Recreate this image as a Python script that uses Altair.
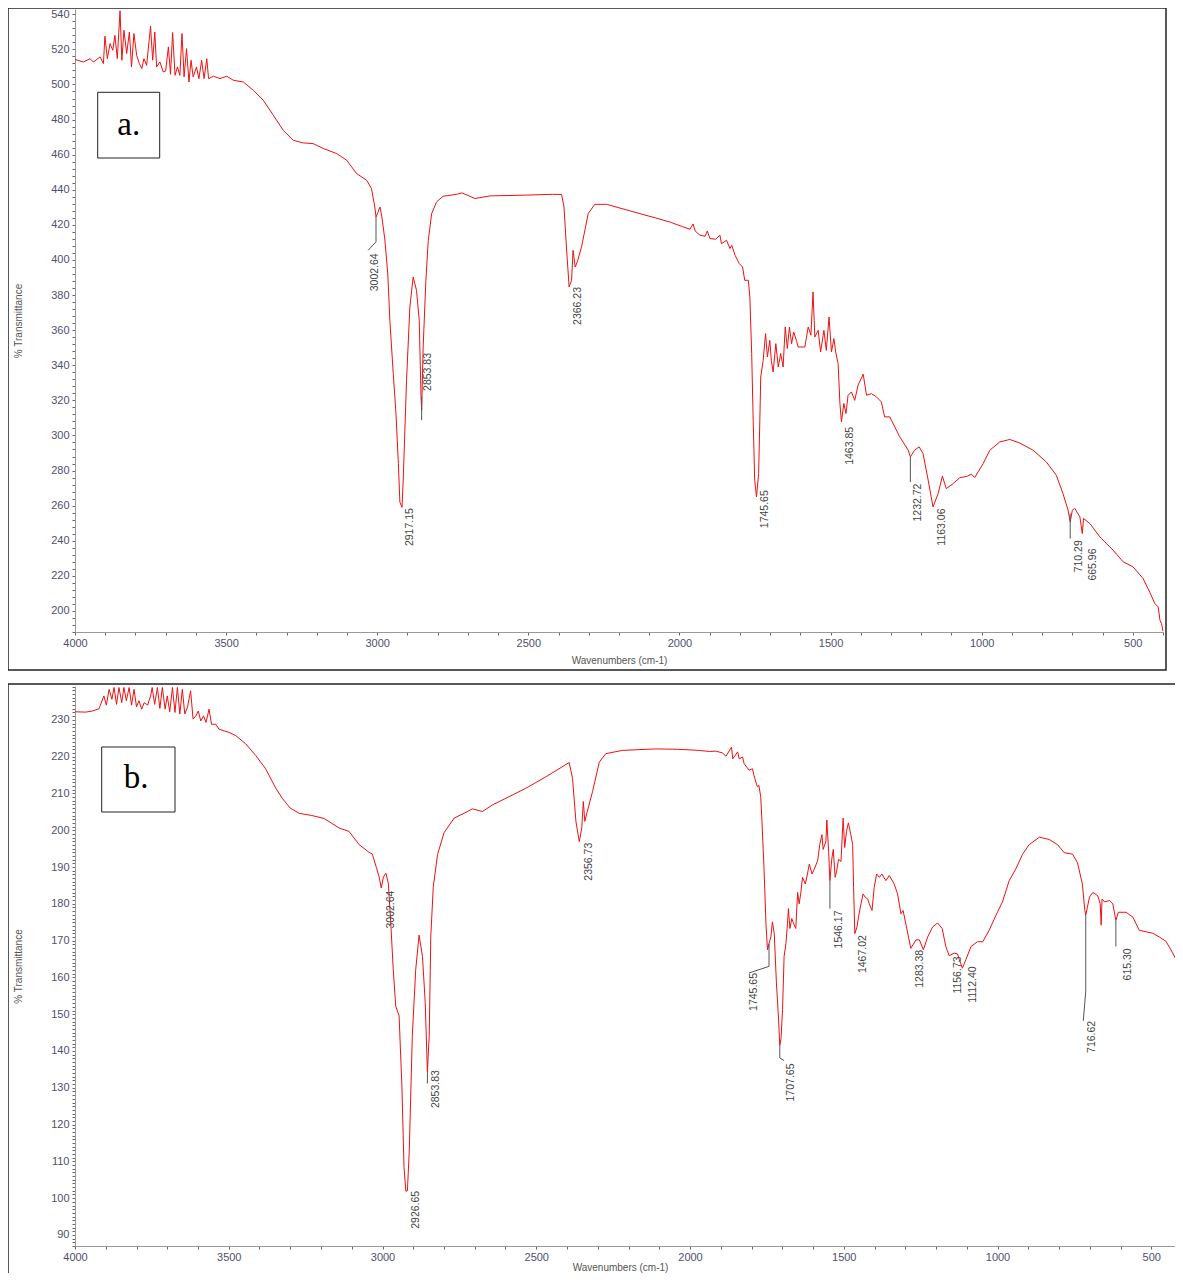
import altair as alt
import pandas as pd

FONT = "Liberation Sans"

# ---------------- spectrum a (wavenumber, %T) ----------------
wn_a = [4000, 3972, 3950, 3939, 3917, 3906, 3901, 3893, 3884, 3875, 3868, 3860, 3851, 3845, 3838,
        3829, 3820, 3813, 3805, 3796, 3787, 3779, 3772, 3763, 3750, 3743, 3736, 3730, 3719, 3708,
        3700, 3691, 3684, 3677, 3669, 3661, 3653, 3646, 3639, 3631, 3623, 3616, 3609, 3598, 3590,
        3581, 3573, 3564, 3558, 3542, 3520, 3498, 3476, 3443, 3410, 3377, 3344, 3311, 3278, 3245,
        3212, 3178, 3134, 3101, 3068, 3035, 3019, 3008, 3004, 2998, 2991, 2985, 2975, 2965, 2958,
        2947, 2938, 2930, 2925, 2918, 2914, 2903, 2892, 2881, 2870, 2861, 2855, 2853, 2848, 2839,
        2831, 2820, 2804, 2782, 2737, 2720, 2700, 2677, 2627, 2517, 2420, 2390, 2382, 2374, 2365,
        2357, 2352, 2345, 2338, 2324, 2302, 2280, 2241, 2131, 2080, 2030, 1990, 1965, 1955, 1948,
        1932, 1915, 1908, 1899, 1880, 1866, 1861, 1844, 1833, 1827, 1816, 1802, 1791, 1784, 1772,
        1767, 1761, 1756, 1751, 1745, 1738, 1734, 1731, 1723, 1715, 1709, 1701, 1696, 1690, 1681,
        1673, 1665, 1657, 1650, 1643, 1636, 1629, 1622, 1613, 1607, 1585, 1574, 1565, 1558, 1552,
        1541, 1533, 1522, 1514, 1505, 1497, 1489, 1483, 1475, 1469, 1464, 1456, 1449, 1442, 1431,
        1420, 1409, 1392, 1381, 1365, 1348, 1332, 1321, 1304, 1271, 1243, 1236, 1222, 1207, 1194,
        1177, 1161, 1144, 1130, 1117, 1094, 1072, 1050, 1034, 1023, 995, 973, 940, 907, 874,
        830, 786, 753, 731, 714, 707, 700, 692, 675, 667, 663, 642, 609, 565, 532,
        499, 466, 444, 427, 416, 410, 405, 400]
t_a = [514.2, 512.8, 514.7, 512.8, 515.7, 511.9, 527.5, 514.7, 523.3, 519.5, 528.0, 514.7, 542.0, 513.8, 530.9,
       517.6, 529.9, 510.0, 529.0, 516.6, 511.9, 509.0, 514.7, 510.9, 533.2, 513.8, 529.9, 510.0, 512.8, 507.1,
       507.7, 521.4, 505.8, 529.6, 505.2, 510.0, 505.2, 529.0, 504.3, 520.4, 501.4, 513.8, 504.3, 510.0, 503.3,
       513.8, 503.3, 514.7, 503.3, 504.7, 503.3, 504.7, 502.4, 501.4, 496.7, 491.0, 482.5, 473.9, 468.2, 466.7,
       466.3, 463.5, 460.6, 456.8, 449.2, 445.4, 440.7, 430.2, 424.5, 427.0, 430.2, 425.0, 412.0, 392.0, 365.0,
       335.3, 312.6, 284.0, 262.0, 259.0, 274.5, 331.5, 373.2, 390.3, 382.7, 365.6, 322.0, 314.4, 350.4, 388.4,
       411.2, 426.4, 433.0, 436.3, 437.4, 438.2, 436.8, 435.0, 436.5, 436.9, 437.4, 437.3, 430.2, 407.4, 384.6,
       388.4, 405.5, 396.0, 398.9, 407.4, 426.4, 431.7, 431.7, 426.4, 424.0, 421.5, 419.0, 417.5, 420.5, 416.5,
       414.1, 413.5, 416.5, 412.2, 411.8, 414.1, 409.3, 411.2, 406.5, 408.4, 402.7, 397.9, 396.0, 388.4, 388.4,
       378.9, 346.7, 308.7, 274.5, 265.0, 278.3, 308.7, 333.3, 342.8, 358.0, 344.7, 354.2, 342.8, 336.2, 352.3,
       339.0, 346.7, 339.0, 361.8, 349.5, 361.8, 352.3, 359.0, 354.2, 350.4, 350.4, 361.8, 357.1, 381.8, 356.1,
       359.9, 347.6, 359.9, 348.5, 367.5, 347.6, 355.2, 347.6, 340.9, 318.2, 307.7, 318.2, 312.5, 322.9, 324.8,
       320.0, 328.6, 334.9, 322.9, 323.8, 322.0, 319.1, 310.6, 310.6, 299.2, 291.6, 287.8, 291.6, 293.5, 289.7,
       274.5, 259.3, 266.9, 276.8, 269.7, 272.6, 276.0, 276.6, 277.9, 276.0, 284.0, 291.6, 296.3, 297.7, 295.7,
       291.6, 284.9, 277.3, 266.9, 257.4, 250.7, 257.4, 258.4, 253.6, 244.1, 252.7, 249.8, 242.2, 234.6, 228.0,
       225.1, 218.5, 210.8, 204.2, 202.3, 194.7, 192.8, 188.5]

# ---------------- spectrum b (wavenumber, %T) ----------------
wn_b = [4000, 3965, 3944, 3922, 3906, 3898, 3889, 3880, 3873, 3865, 3857, 3848, 3841, 3833, 3824,
        3816, 3808, 3800, 3792, 3783, 3775, 3764, 3754, 3749, 3741, 3732, 3724, 3716, 3707, 3700,
        3692, 3683, 3675, 3667, 3659, 3651, 3643, 3634, 3624, 3616, 3607, 3599, 3591, 3582, 3574,
        3564, 3556, 3542, 3532, 3515, 3499, 3477, 3445, 3412, 3380, 3347, 3326, 3300, 3271, 3230,
        3190, 3141, 3109, 3076, 3044, 3033, 3020, 3011, 3004, 2997, 2989, 2981, 2973, 2965, 2957,
        2946, 2937, 2930, 2924, 2919, 2913, 2903, 2892, 2881, 2870, 2861, 2854, 2848, 2843, 2835,
        2821, 2800, 2767, 2735, 2708, 2675, 2642, 2577, 2534, 2469, 2393, 2382, 2371, 2360, 2352,
        2347, 2342, 2334, 2317, 2295, 2274, 2220, 2111, 2040, 1970, 1937, 1916, 1894, 1883, 1865,
        1861, 1845, 1840, 1829, 1824, 1808, 1797, 1792, 1781, 1776, 1770, 1766, 1759, 1753, 1748,
        1743, 1737, 1732, 1726, 1719, 1712, 1708, 1704, 1699, 1694, 1688, 1683, 1680, 1675, 1669,
        1663, 1656, 1650, 1645, 1640, 1634, 1625, 1618, 1612, 1603, 1596, 1585, 1578, 1571, 1567,
        1558, 1555, 1549, 1545, 1539, 1534, 1528, 1523, 1517, 1509, 1502, 1497, 1491, 1485, 1477,
        1471, 1468, 1464, 1457, 1452, 1444, 1437, 1430, 1422, 1417, 1408, 1401, 1393, 1384, 1376,
        1363, 1352, 1336, 1325, 1314, 1307, 1296, 1282, 1265, 1254, 1241, 1227, 1211, 1195, 1180,
        1168, 1157, 1141, 1130, 1124, 1114, 1103, 1086, 1065, 1048, 1027, 1005, 984, 962, 941,
        919, 897, 864, 832, 805, 783, 756, 740, 724, 716, 713, 701, 690, 674, 666,
        663, 660, 652, 636, 625, 615, 607, 582, 560, 539, 517, 495, 474, 452, 430,
        419, 414, 409, 400]
t_b = [232.2, 232.1, 232.4, 233.0, 236.5, 234.0, 238.3, 235.6, 238.8, 234.2, 238.8, 234.7, 238.8, 235.2, 238.8,
       234.0, 238.3, 233.5, 235.2, 232.9, 234.7, 234.0, 236.5, 238.8, 234.2, 238.8, 233.1, 238.8, 232.9, 236.5,
       232.2, 238.8, 232.0, 238.8, 231.6, 238.3, 231.6, 233.5, 237.9, 230.2, 231.1, 232.4, 229.7, 231.1, 229.3,
       232.9, 228.8, 228.8, 227.5, 227.0, 226.6, 225.7, 223.5, 220.3, 216.7, 211.4, 208.7, 206.0, 204.6, 204.0,
       203.2, 200.6, 199.7, 196.1, 194.0, 193.5, 189.9, 187.3, 184.3, 187.3, 188.3, 185.6, 174.6, 162.1, 152.2,
       149.5, 130.7, 108.3, 101.9, 102.0, 112.8, 144.2, 162.1, 171.5, 165.7, 153.1, 134.3, 144.2, 171.0, 184.5,
       193.4, 199.3, 203.3, 204.6, 205.8, 205.1, 206.9, 209.6, 211.4, 214.5, 218.4, 214.1, 202.4, 196.9, 200.6,
       207.8, 202.4, 205.1, 210.5, 218.5, 220.8, 221.7, 222.1, 222.0, 221.7, 221.4, 221.5, 221.0, 220.1, 222.6,
       219.4, 221.3, 219.4, 219.9, 218.1, 216.3, 216.7, 214.9, 211.8, 212.2, 209.1, 202.4, 189.0, 174.6, 167.5,
       169.2, 171.0, 175.1, 171.9, 158.5, 148.7, 141.5, 143.4, 151.3, 165.7, 169.2, 174.6, 178.7, 173.3, 176.0,
       174.6, 173.3, 183.1, 180.0, 182.7, 187.2, 185.4, 188.1, 190.8, 188.1, 189.4, 191.7, 196.1, 198.8, 194.8,
       197.0, 202.8, 194.0, 186.3, 192.1, 194.8, 187.2, 188.9, 192.1, 191.5, 203.3, 195.3, 199.7, 202.0, 198.8,
       196.1, 184.5, 171.9, 173.7, 176.4, 180.0, 182.7, 181.8, 181.3, 180.0, 178.2, 184.5, 188.1, 187.2, 188.1,
       186.3, 187.7, 185.4, 182.7, 177.3, 178.2, 173.7, 167.9, 170.2, 170.2, 167.5, 171.0, 173.7, 174.8, 173.3,
       168.4, 165.9, 166.6, 166.4, 164.8, 162.5, 164.8, 168.4, 169.7, 169.7, 172.8, 176.9, 180.5, 186.3, 189.4,
       193.4, 196.1, 198.1, 197.5, 196.1, 193.9, 193.5, 191.2, 185.4, 178.2, 176.9, 181.8, 183.1, 182.2, 180.0,
       174.2, 181.3, 180.5, 180.9, 180.0, 175.5, 177.7, 177.7, 176.4, 172.8, 172.4, 172.0, 171.0, 169.8, 166.6,
       164.8, 166.6, 163.0, 158.3]

# ---------------- peak labels (text, wavenumber, %T at top end of text) ----------------
lab_a = ["3002.64", "2917.15", "2853.83", "2366.23", "1745.65", "1463.85", "1232.72", "1163.06", "710.29", "665.96"]
lab_a_wn = [3007, 2892, 2831, 2335, 1717, 1436, 1210, 1130, 679, 632]
lab_a_t = [403.8, 258.6, 347.0, 384.6, 268.8, 304.9, 272.6, 258.4, 240.3, 235.6]

lab_b = ["3002.64", "2926.65", "2853.83", "2356.73", "1745.65", "1707.65", "1546.17", "1467.02",
         "1283.38", "1156.73", "1112.40", "716.62", "615.30"]
lab_b_wn = [2973, 2892, 2827, 2328, 1792, 1672, 1515, 1436, 1252, 1127, 1081, 693, 577]
lab_b_t = [183.6, 102.0, 134.8, 196.6, 161.2, 136.6, 178.2, 171.5, 167.5, 165.7, 163.0, 148.2, 167.9]

# ---------------- leader lines (id, point order, wavenumber, %T) ----------------
lead_a_id = [0, 0, 0, 1, 1, 2, 2, 3, 3]
lead_a_k = [0, 1, 2, 0, 1, 0, 1, 0, 1]
lead_a_wn = [3004, 3004, 3030, 2853, 2853, 1236, 1236, 707, 707]
lead_a_t = [424.5, 410.3, 405.5, 322.0, 308.7, 287.8, 273.5, 255.5, 241.2]

lead_b_id = [0, 0, 1, 1, 1, 2, 2, 2, 3, 3, 4, 4, 4, 5, 5]
lead_b_k = [0, 1, 0, 1, 2, 0, 1, 2, 0, 1, 0, 1, 2, 0, 1]
lead_b_wn = [2854, 2854, 1743, 1743, 1808, 1708, 1708, 1694, 1545, 1545, 713, 713, 721, 615, 615]
lead_b_t = [134.3, 131.2, 169.2, 163.0, 161.2, 141.5, 138.1, 137.4, 186.3, 178.7, 176.9, 156.3, 148.2, 175.5, 168.4]

LINE_COLOR = "#ee1111"
LABEL_COLOR = "#4f4f6e"
ONE = pd.DataFrame({"k": [0]})

# single canvas holding both spectra; the lower one runs past the right edge (as in the scan)
W, H = 1100, 1264
A_W, A_TOP, A_BOT = 1088, 0, 623
B_W, B_TOP, B_BOT = 1107, 677, 1237


def spectrum_layers(wn, t, lab, lab_wn, lab_t, l_id, l_k, l_wn, l_t,
                    ydom, ymajor, ystep, pw, top, bot, xtitle_x, xtitle_y):
    sx = alt.Scale(domain=[400, 4000], reverse=True, range=[0, pw], nice=False, zero=False)
    sy = alt.Scale(domain=ydom, range=[bot, top], nice=False, zero=False)
    yvals = list(range(int(ydom[0]) + (-int(ydom[0]) % ystep), int(ydom[1]) + 1, ystep))
    xaxis = alt.Axis(
        orient="bottom", offset=bot - H,
        values=list(range(4000, 399, -100)), format="d",
        labelExpr="datum.value % 500 === 0 ? datum.label : ''",
        labelOverlap=False, labelFlush=False, labelFont=FONT, labelFontSize=11,
        labelColor=LABEL_COLOR, labelPadding=2, tickSize=3, tickColor="#666666",
        domainColor="#999999", grid=False,
        title="Wavenumbers (cm-1)", titleFont=FONT, titleFontSize=10, titleFontWeight="normal",
        titleColor="#555555", titleX=xtitle_x, titleY=xtitle_y, titleAlign="center",
        titleBaseline="middle")
    yaxis = alt.Axis(
        orient="left", values=yvals, format="d",
        labelExpr="datum.value %% %d === 0 ? datum.label : ''" % ymajor,
        labelOverlap=False, labelFlush=False, labelFont=FONT, labelFontSize=11,
        labelColor=LABEL_COLOR, labelPadding=3, tickSize=3, tickColor="#666666",
        domainColor="#999999", grid=False,
        title="% Transmittance", titleFont=FONT, titleFontSize=10, titleFontWeight="normal",
        titleColor="#555555", titleAngle=270, titleX=-57, titleY=(top + bot) / 2,
        titleAlign="center", titleBaseline="middle")

    df = pd.DataFrame({"wn": wn, "t": t})
    line = alt.Chart(df).mark_line(color=LINE_COLOR, strokeWidth=1).encode(
        x=alt.X("wn:Q", scale=sx, axis=xaxis),
        y=alt.Y("t:Q", scale=sy, axis=yaxis))

    dl = pd.DataFrame({"id": l_id, "k": l_k, "wn": l_wn, "t": l_t})
    leaders = alt.Chart(dl).mark_line(color="#555555", strokeWidth=1).encode(
        x=alt.X("wn:Q", scale=sx, axis=None),
        y=alt.Y("t:Q", scale=sy, axis=None),
        detail="id:N", order="k:Q")

    dlab = pd.DataFrame({"lab": lab, "wn": lab_wn, "t": lab_t})
    labels = alt.Chart(dlab).mark_text(angle=270, align="right", baseline="middle",
                                       font=FONT, fontSize=10.5, color="#444444").encode(
        x=alt.X("wn:Q", scale=sx, axis=None),
        y=alt.Y("t:Q", scale=sy, axis=None),
        text="lab:N")
    return [line, leaders, labels]


def letter_box(x1, x2, y1, y2, tx, ty, letter):
    boxm = alt.Chart(ONE).mark_rect(fill="white", stroke="#222222", strokeWidth=1).encode(
        x=alt.value(x1), x2=alt.value(x2), y=alt.value(y1), y2=alt.value(y2))
    letm = alt.Chart(ONE).mark_text(font="Liberation Serif", fontSize=33, align="center",
                                    baseline="alphabetic", color="#000000").encode(
        x=alt.value(tx), y=alt.value(ty), text=alt.value(letter))
    return [boxm, letm]


frames = [
    alt.Chart(ONE).mark_rect(fillOpacity=0, stroke="#222222", strokeWidth=1.5).encode(
        x=alt.value(-67), x2=alt.value(A_W + 3), y=alt.value(A_TOP - 1), y2=alt.value(A_BOT + 38)),
    alt.Chart(ONE).mark_rule(color="#222222", strokeWidth=1.5).encode(
        x=alt.value(-67), x2=alt.value(W + 5), y=alt.value(B_TOP - 2)),
    alt.Chart(ONE).mark_rule(color="#222222", strokeWidth=1.5).encode(
        x=alt.value(-67), y=alt.value(B_TOP - 2), y2=alt.value(H + 5)),
]

layers_a = spectrum_layers(wn_a, t_a, lab_a, lab_a_wn, lab_a_t, lead_a_id, lead_a_k, lead_a_wn,
                           lead_a_t, [188, 543], 20, 4, A_W, A_TOP, A_BOT, A_W / 2, 28.7)
layers_b = spectrum_layers(wn_b, t_b, lab_b, lab_b_wn, lab_b_t, lead_b_id, lead_b_k, lead_b_wn,
                           lead_b_t, [87, 239.2], 10, 1, B_W, B_TOP, B_BOT, 545, 21)

chart = alt.layer(
    *frames, *layers_a, *layers_b,
    *letter_box(22.7, 84.7, 83.3, 149, 53.7, 126, "a."),
    *letter_box(26.7, 100, 738, 803, 61, 779.3, "b."),
).resolve_scale(x="independent", y="independent").properties(
    width=W, height=H,
    autosize=alt.AutoSizeParams(type="none"),
    padding={"left": 67, "top": 1, "right": 0, "bottom": 0},
    background="white",
).configure_view(stroke="transparent").configure_axis(labelOverlap=False)

chart.save("out.html", embed_options={"renderer": "svg", "actions": False})
